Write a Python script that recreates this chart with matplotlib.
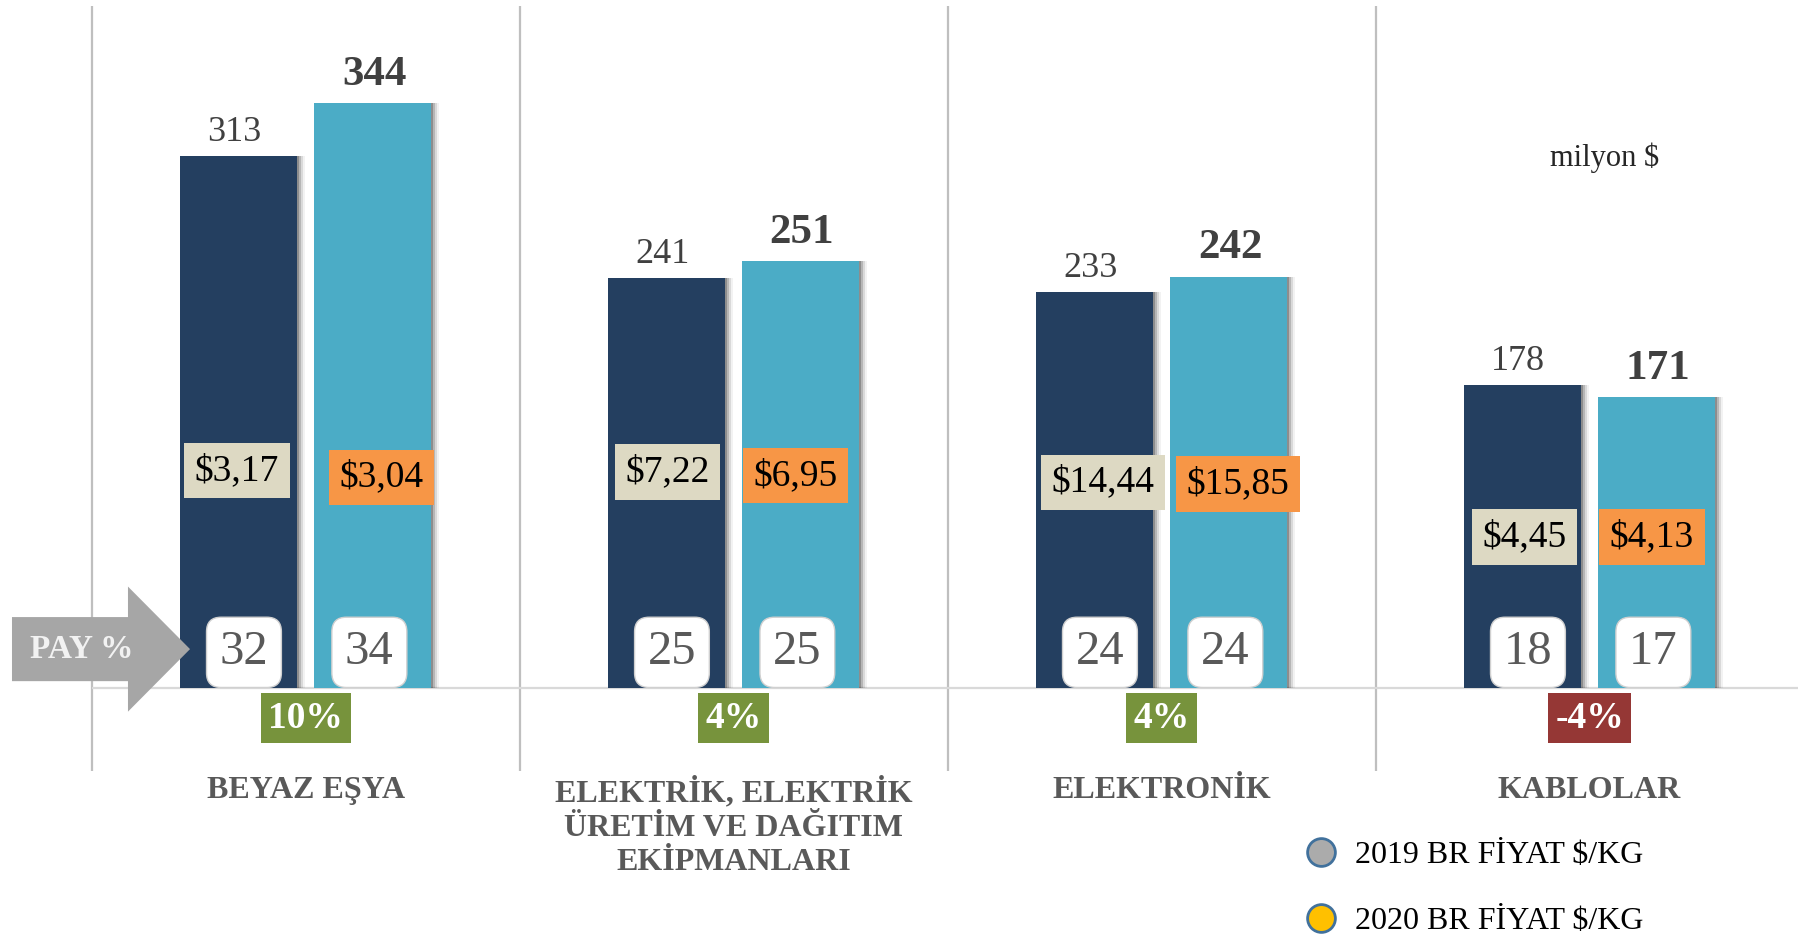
import matplotlib
matplotlib.use('Agg')
from matplotlib import pyplot as plt
from matplotlib.patches import FancyArrow
from matplotlib.lines import Line2D

plt.rcParams['font.family'] = ['Liberation Serif', 'DejaVu Serif']

# veriler
categories = ['BEYAZ EŞYA', 'ELEKTRİK, ELEKTRİK\nÜRETİM VE DAĞITIM\nEKİPMANLARI',
              'ELEKTRONİK', 'KABLOLAR']
val_2019 = [313, 241, 233, 178]
val_2020 = [344, 251, 242, 171]
price_2019 = ['$3,17', '$7,22', '$14,44', '$4,45']
price_2020 = ['$3,04', '$6,95', '$15,85', '$4,13']
pay_2019 = [32, 25, 24, 18]
pay_2020 = [34, 25, 24, 17]

# fiyat kutularinin konumu (grafik birimi)
price_y_2019 = [128, 127, 121, 89]
price_y_2020 = [124, 125, 120, 89]
price_dx_2019 = [-0.003, 0.003, 0.020, 0.005]
price_dx_2020 = [0.020, -0.012, 0.021, -0.011]

c_dark = '#243F60'
c_light = '#4BACC6'
c_beige = '#DDD9C3'
c_orange = '#F79646'
c_green = '#77933C'
c_red = '#953735'

fig = plt.figure(figsize=(17.98, 9.35), dpi=100)
ax = fig.add_axes([0, 0, 1, 1])
ax.set_xlim(-0.714, 3.487)
ax.set_ylim(-145.3, 404.8)
ax.axis('off')

x = list(range(len(categories)))
off = 0.157
bw = 0.273
x1 = [i - off for i in x]
x2 = [i + off for i in x]

# golgeler
for k, a in [(0.004, 0.22), (0.009, 0.16), (0.014, 0.10), (0.019, 0.05)]:
    ax.bar([v + k for v in x1], val_2019, width=bw, color='#000000', alpha=a, zorder=2)
    ax.bar([v + k for v in x2], val_2020, width=bw, color='#000000', alpha=a, zorder=2)

ax.bar(x1, val_2019, width=bw, color=c_dark, zorder=3)
ax.bar(x2, val_2020, width=bw, color=c_light, zorder=3)

# ayirici cizgiler
ax.vlines([i - 0.5 for i in x], -49, 401, color='#BFBFBF', lw=1.6, zorder=1)
ax.hlines(0, -0.5, 3.487, color='#D9D9D9', lw=1.6, zorder=1)

for i in x:
    ax.text(x1[i] - 0.01, val_2019[i] + 9, str(val_2019[i]), ha='center', va='baseline',
            fontsize=26, color='#404040', zorder=6)
    ax.text(x2[i] + 0.003, val_2020[i] + 11, str(val_2020[i]), ha='center', va='baseline',
            fontsize=31, fontweight='bold', color='#404040', zorder=6)

    ax.text(x1[i] + price_dx_2019[i], price_y_2019[i], price_2019[i], ha='center',
            va='center', fontsize=27, color='black', zorder=6,
            bbox=dict(boxstyle='square,pad=0.28', fc=c_beige, ec='none'))
    ax.text(x2[i] + price_dx_2020[i], price_y_2020[i], price_2020[i], ha='center',
            va='center', fontsize=27, color='black', zorder=6,
            bbox=dict(boxstyle='square,pad=0.28', fc=c_orange, ec='none'))

    for xx, p in [(x1[i] + 0.013, pay_2019[i]), (x2[i] - 0.008, pay_2020[i])]:
        ax.text(xx, 21, str(p), ha='center', va='center', fontsize=35, color='#595959',
                zorder=6,
                bbox=dict(boxstyle='round,pad=0.27,rounding_size=0.3', fc='white',
                          ec='#D0D0D0', lw=1))

    g = round((val_2020[i] / val_2019[i] - 1) * 100)
    ax.text(i, -17.7, f'{g}%', ha='center', va='center', fontsize=27,
            fontweight='bold', color='white', zorder=6,
            bbox=dict(boxstyle='square,pad=0.2', fc=c_green if g >= 0 else c_red, ec='none'))

    ax.text(i, -52, categories[i], ha='center', va='top', fontsize=23,
            fontweight='bold', color='#595959', linespacing=1.25)

# PAY % oku
arr = FancyArrow(-0.686, 22.9, 0.416, 0, width=37.7, head_width=73.6,
                 head_length=0.145, length_includes_head=True,
                 color='#A6A6A6', lw=0, zorder=4)
ax.add_patch(arr)
ax.text(-0.522, 22.9, 'PAY %', ha='center', va='center', fontsize=24,
        fontweight='bold', color='#F2F2F2', zorder=5)

ax.text(3.036, 312, 'milyon $', ha='center', va='center', fontsize=22, color='#262626')

handles = [Line2D([], [], ls='none', marker='o', markersize=20, mfc='#ABABAB',
                  mec='#41719C', mew=2),
           Line2D([], [], ls='none', marker='o', markersize=20, mfc='#FFC000',
                  mec='#41719C', mew=2)]
fig.legend(handles, ['2019 BR FİYAT $/KG', '2020 BR FİYAT $/KG'], loc='upper left',
           bbox_to_anchor=(1305 / 1798, 1 - 841 / 935), frameon=False, fontsize=23,
           handlelength=1.0, handletextpad=0.55, labelspacing=1.15, borderpad=0,
           borderaxespad=0)

fig.savefig('out.png', dpi=100)
